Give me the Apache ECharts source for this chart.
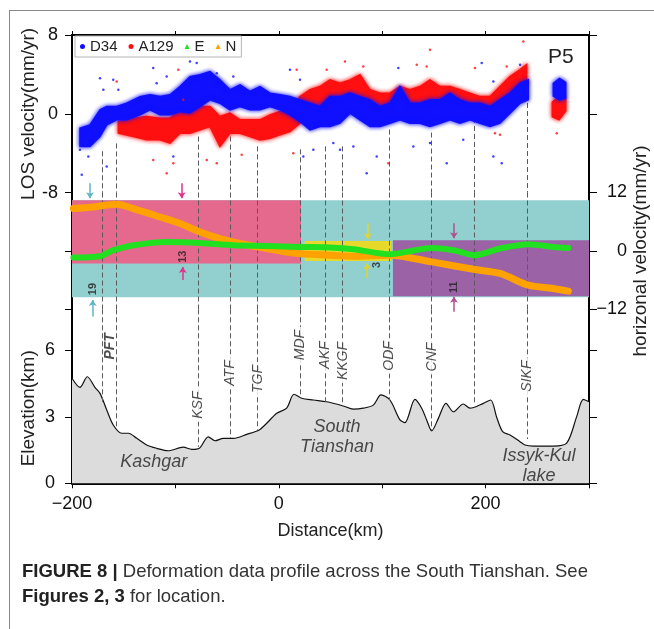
<!DOCTYPE html>
<html>
<head>
<meta charset="utf-8">
<script src="https://cdn.jsdelivr.net/npm/echarts@6/dist/echarts.min.js"></script>
<style>
  html, body { margin: 0; padding: 0; background: #fff; }
  #chart { width: 654px; height: 629px; }
  .frame { position: absolute; left: 9px; top: 10px; width: 650px; height: 625px;
           border-left: 1.5px solid #888; border-top: 1.5px solid #888; pointer-events: none; }
</style>
</head>
<body>
<div id="chart"></div>
<div class="frame"></div>
<script>
// ---- LOS velocity (mm/yr): upper / lower edge of the dense InSAR point cloud
const d34Dist = [-192.3, -182.6, -172.9, -166.4, -156.8, -147.1, -134.2, -124.6, -114.9, -105.2, -95.6, -85.9, -76.2, -66.5, -56.9, -47.2, -37.5, -27.9, -18.2, -8.5, 1.2, 10.8, 20.5, 30.2, 39.8, 49.5, 59.2, 68.9, 78.5, 88.2, 97.9, 107.5, 117.2, 126.9, 136.6, 146.2, 155.9, 165.6, 175.2, 184.9, 194.6, 204.3, 213.9, 223.6, 233.3, 241.3, null, 265.5, 271.5, 277.5];
const d34Hi = [-1.45, -1.12, 0.41, 0.74, 0.74, 1.08, 1.75, 1.93, 1.75, 1.93, 2.77, 3.78, 3.96, 4.29, 3.45, 2.44, 2.94, 2.27, 2.77, 2.10, 1.93, 1.75, 1.42, 1.08, 0.74, 1.75, 1.75, 2.10, 1.75, 1.42, 0.74, 1.08, 2.77, 1.08, 1.08, 1.42, 1.42, 2.10, 1.42, 1.08, 1.08, 0.74, 1.42, 2.10, 3.11, 3.45, null, 3.1, 3.6, 3.2];
const d34Lo = [-3.32, -3.32, -2.30, -1.12, -0.61, -0.61, -0.10, 0.41, -0.10, -0.10, 0.23, 0.10, 0.74, 1.42, 1.08, 0.41, 0.74, 0.41, 0.41, 0.74, 0.41, -0.10, -0.78, -1.62, -1.29, -1.29, -0.95, 0.07, -0.61, -1.29, -1.29, -0.95, -0.61, -0.95, -0.95, -1.29, -0.95, -0.61, -0.95, -0.61, -0.95, -1.29, -0.95, 0.07, 1.08, 1.42, null, 1.8, 1.4, 1.6];

const a129Dist = [-155.2, -140.7, -127.8, -114.9, -105.2, -95.6, -85.9, -76.2, -66.5, -56.9, -47.2, -37.5, -27.9, -18.2, -8.5, 1.2, 10.8, 20.5, 30.2, 39.8, 49.5, 59.2, 68.9, 78.5, 88.2, 97.9, 107.5, 117.2, 126.9, 136.6, 146.2, 155.9, 165.6, 175.2, 184.9, 194.6, 204.3, 213.9, 223.6, 233.3, 239.7, null, 264.5, 271, 277.5];
const a129Hi = [-0.78, -0.44, -0.27, -0.44, -0.44, 0.41, 0.41, 0.74, 0.74, -0.27, 0.07, -0.61, -0.61, -0.61, -0.10, 0.23, 0.41, 1.75, 2.44, 2.77, 3.45, 3.11, 3.45, 3.96, 2.44, 2.10, 2.10, 2.77, 2.44, 2.77, 3.45, 2.77, 2.77, 2.44, 2.10, 1.75, 1.75, 2.77, 3.78, 4.48, 5.00, null, 1.2, 1.75, 1.5];
const a129Lo = [-1.96, -2.30, -2.64, -2.64, -2.97, -1.96, -1.96, -1.62, -1.29, -3.32, -1.96, -1.96, -2.30, -2.64, -2.47, -2.13, -1.79, -0.95, 0.41, 0.41, 1.08, 0.74, 1.42, 1.75, 0.41, 0.07, 0.41, 1.08, 0.74, 0.41, 0.74, 0.74, 0.41, 0.41, 0.41, 0.41, 0.07, -0.27, 1.42, 2.77, 3.11, null, -0.3, -0.6, 0.3];

// scattered points outside the dense cloud
const d34OutDist = [-190.6, -192.3, -184.2, -172.9, -169.7, -166.4, -160.1, -155.2, -172.9, -121.4, -118.1, -108.4, -102, -85.9, -79.4, -60, -44, 10.8, 20.5, 23.7, 33.4, 52.7, 59.2, 72.1, 85, 94.7, 115.6, 130.1, 146.2, 162.4, 178.4, 196.2, 207.5, 207.5, 215.6, 233.3];
const d34OutLos = [-6.19, -3.65, -4.33, 3.62, 2.44, -5.35, 3.45, 2.44, -1.96, 4.64, 3.11, 3.78, -4.33, 5.31, 5.15, 4.13, 3.79, 4.47, 3.45, -4.33, -3.65, -2.97, -3.65, -3.32, -6.02, -4.33, 4.64, -3.32, -2.97, -5.01, -2.64, 5.15, 3.28, -4.33, -5.01, 4.97];
const a129OutDist = [-156.8, -121.4, -108.4, -102, -97.2, -92.4, -69.7, -60, -35.9, 14, 17.3, 46.3, 64, 81.7, 105.9, 133.4, 146.2, 143, 189.7, 220.4, 236.5, 209.1, 213.9, 268.8];
const a129OutLos = [3.28, -4.67, -6.02, -5.01, 4.47, 1.42, -4.67, -5.01, -4.16, -3.99, 4.47, 4.47, 5.31, 4.80, -5.01, 4.97, 6.50, 4.80, 4.64, 4.80, 7.34, -1.96, -2.13, -1.96];

// ---- horizontal GNSS velocity (mm/yr)
const eDist = [-198.7, -172.9, -160.1, -140.7, -108.4, -76.2, -44, -11.7, 20.5, 49.5, 72, 107.5, 123.7, 147.9, 168.8, 189.7, 213.9, 241.3, 265.5, 280];
const eVel = [-1.35, -1.09, 0.14, 1.17, 1.85, 1.64, 1.17, 1.03, 0.82, 0.70, 0.35, -0.68, -0.20, 0.62, 0.14, -0.88, 0.49, 1.37, 0.82, 0.62];
const nDist = [-198.7, -179.4, -156.8, -140.7, -114.9, -95.6, -76.2, -56.9, -37.5, -11.7, 14, 49.5, 72, 107.5, 147.9, 189.7, 213.9, 241.3, 265.5, 280];
const nVel = [8.70, 9.03, 9.58, 8.70, 6.97, 5.62, 3.90, 2.54, 1.52, 0.49, -0.41, -0.88, -1.09, -0.88, -2.26, -3.82, -4.64, -7.04, -7.71, -8.27];

// velocity zones (mm/yr)
const zoneX0 = [-200, -200, 25, 110.4];
const zoneX1 = [300, 21.5, 108.5, 300];
const zoneTop = [10.4, 10.4, 2.05, 2.2];
const zoneBottom = [-9.5, -2.6, -2.1, -9.3];
const zoneColors = ['#92cfcf', '#e4698c', '#e6d92c', '#9b62a6'];

// zone-width arrows and their numbers
const arrowDist = [-182.6, -180, -93.9, -92.9, 86, 85.3, 169.4, 169.4];
const arrowFrom = [13.9, -13.5, 13.9, -6.0, 5.7, -5.6, 5.7, -12.5];
const arrowTo = [10.8, -10.1, 10.8, -3.3, 2.4, -2.6, 2.6, -9.4];
const arrowColors = ['#5db5c6', '#5db5c6', '#e0338a', '#e0338a', '#e2d430', '#e2d430', '#b0508e', '#b0508e'];
const rateText = ['19', '13', '3', '11'];
const rateDist = [-179.7, -92.6, 95, 169.4];
const rateVel = [-7.85, -1.2, -2.9, -7.45];

// ---- topography (km)
const elevDist = [-200, -192.3, -185.2, -177.8, -172.9, -166.4, -160.1, -151.9, -145.5, -137.4, -127.8, -118.1, -106.9, -92.4, -84.2, -76.9, -68.2, -61.7, -53.7, -44, -31, -18.9, -11.7, -2, 7.6, 14.7, 22.1, 33.4, 46.3, 62.4, 72.1, 81.7, 91.4, 98.8, 107.5, 117.2, 122, 131.7, 138.2, 143, 147.9, 154.3, 161.7, 168.8, 178.4, 184.9, 197.8, 204.9, 210.7, 216.5, 223.6, 233.3, 238.1, 246.1, 265.5, 278.4, 288.1, 294.5, 300];
const elevKm = [4.74, 4.33, 4.81, 4.33, 4.06, 3.31, 2.63, 2.26, 2.26, 2.03, 1.73, 1.58, 1.47, 1.63, 1.53, 1.58, 2.10, 1.92, 2.03, 2.03, 2.21, 2.41, 2.71, 3.16, 3.39, 4.02, 3.84, 3.76, 3.68, 3.49, 3.35, 3.39, 3.53, 3.99, 3.76, 2.86, 2.74, 3.79, 3.39, 2.86, 2.37, 2.93, 3.61, 3.23, 3.58, 3.39, 3.61, 3.76, 2.98, 2.33, 2.18, 1.88, 1.73, 1.68, 1.68, 1.81, 3.01, 3.79, 3.68];

// ---- faults
const faultDist = [-170.3, -156.8, -77.9, -47.2, -20.4, 20.5, 45.2, 61.8, 106.9, 147.9, 189.1, 240.3];
const faultTopLos = [-3.8, -3.0, -2.3, -2.3, -3.3, -3.6, -3.3, -3.3, -1.6, -1.9, 0.4, 1.1];
const faultBaseKm = [3.68, 2.50, 1.65, 2.05, 2.41, 3.85, 3.68, 3.49, 3.76, 2.40, 3.53, 2.00];
const faultLabels = ['PFT', 'KSF', 'ATF', 'TGF', 'MDF', 'AKF', 'KKGF', 'ODF', 'CNF', 'SIKF'];
const faultLabelDist = [-163.5, -77.9, -47.2, -20.4, 20.5, 45.2, 61.8, 106.9, 147.9, 240.3];
const faultLabelKm = [6.18, 3.53, 4.98, 4.71, 6.24, 5.79, 5.52, 5.75, 5.70, 4.84];

const regionNames = ['Kashgar', 'South\nTianshan', 'Issyk-Kul\nlake'];
const regionDist = [-121, 56.3, 251.6];
const regionKm = [0.94, 2.09, 0.78];

const FONT = 'Liberation Sans, Arial, sans-serif';
const ELEV_MAX = 7.855;
const minus = v => (v < 0 ? '\u2212' + (-v) : String(v));

function bandPieces(dist, hi, lo) {
  const pieces = [];
  let cur = [];
  dist.forEach((d, i) => {
    if (d === null) { if (cur.length) pieces.push(cur); cur = []; return; }
    cur.push([d, hi[i], lo[i]]);
  });
  if (cur.length) pieces.push(cur);
  return pieces;
}

// dense point cloud drawn as a filled band with a soft edge
function bandSeries(name, pieces, color) {
  return {
    name, type: 'custom', xAxisIndex: 0, yAxisIndex: 0, z: 3, silent: true,
    itemStyle: { color },
    data: pieces.map((p, i) => [p[0][0], p[0][1], i]),
    encode: { x: 0, y: 1 },
    renderItem(params, api) {
      const p = pieces[api.value(2)];
      const pts = p.map(q => api.coord([q[0], q[1]]))
        .concat(p.slice().reverse().map(q => api.coord([q[0], q[2]])));
      return { type: 'polygon', shape: { points: pts },
               style: { fill: color, stroke: color, lineWidth: 1.5, shadowBlur: 4, shadowColor: color } };
    }
  };
}

function faultLines(xi, yi, from, to, z) {
  return {
    type: 'lines', coordinateSystem: 'cartesian2d', xAxisIndex: xi, yAxisIndex: yi, z, silent: true,
    lineStyle: { color: '#5a5a5a', width: 1, type: [5, 3], opacity: 1 },
    data: faultDist.map((d, i) => ({ coords: [[d, from(i)], [d, to(i)]] }))
  };
}

const blackLine = { show: true, onZero: false, lineStyle: { color: '#000', width: 2 } };
const tickStyle = { color: '#000', width: 1 };

const xBase = { type: 'value', min: -200, max: 300, interval: 100, splitLine: { show: false } };

const chart = echarts.init(document.getElementById('chart'), null, { renderer: 'canvas' });

chart.setOption({
  animation: false,
  backgroundColor: '#fff',
  textStyle: { fontFamily: FONT },
  title: [
    {
      text: '{b|FIGURE 8 |} Deformation data profile across the South Tianshan. See\n{b|Figures 2, 3} for location.',
      left: 22, top: 559, padding: 0,
      textStyle: {
        fontSize: 18.5, fontWeight: 'normal', color: '#333', lineHeight: 25, fontFamily: FONT,
        rich: { b: { fontSize: 18.5, fontWeight: 'bold', color: '#222', lineHeight: 25, fontFamily: FONT } }
      }
    },
    { text: 'P5', left: 543, top: 42, textStyle: { fontSize: 21, fontWeight: 'normal', color: '#222', fontFamily: FONT } }
  ],
  legend: {
    left: 75, top: 36, padding: [3, 5, 3, 5], itemGap: 11, itemWidth: 5, itemHeight: 5,
    borderColor: '#b5b5b5', borderWidth: 1, backgroundColor: '#fff', selectedMode: false,
    textStyle: { fontSize: 15, color: '#222', fontFamily: FONT },
    data: [
      { name: 'D34', icon: 'circle' },
      { name: 'A129', icon: 'circle' },
      { name: 'E', icon: 'triangle' },
      { name: 'N', icon: 'triangle' }
    ]
  },
  grid: [
    { left: 72, top: 35, width: 517, height: 157.7, outerBoundsMode: 'none' },
    { left: 72, top: 192.5, width: 517, height: 116.8, outerBoundsMode: 'none' },
    { left: 72, top: 309.3, width: 517, height: 174, outerBoundsMode: 'none' }
  ],
  xAxis: [
    { ...xBase, gridIndex: 0, position: 'top', axisLine: blackLine,
      axisTick: { length: 4, lineStyle: tickStyle }, axisLabel: { show: false } },
    { ...xBase, gridIndex: 1, show: false },
    { ...xBase, gridIndex: 2, position: 'bottom', axisLine: blackLine,
      axisTick: { length: 5, lineStyle: tickStyle },
      axisLabel: { fontSize: 18, color: '#111', margin: 12, formatter: v => (v % 200 === 0 ? minus(v) : '') },
      name: 'Distance(km)', nameLocation: 'middle', nameGap: 39, nameMoveOverlap: false,
      nameTextStyle: { fontSize: 18, color: '#222' } }
  ],
  yAxis: [
    { type: 'value', gridIndex: 0, position: 'left', min: -8, max: 8, interval: 8,
      axisLine: blackLine, axisTick: { length: 7, lineStyle: tickStyle }, splitLine: { show: false },
      axisLabel: { fontSize: 18, color: '#111', margin: 14 },
      name: 'LOS velocity(mm/yr)', nameLocation: 'middle', nameGap: 34, nameRotate: 90, nameMoveOverlap: false,
      nameTextStyle: { fontSize: 19, color: '#222' } },
    { type: 'value', gridIndex: 0, position: 'right', min: -8, max: 8, interval: 8,
      axisLine: blackLine, axisTick: { length: 8, lineStyle: tickStyle }, splitLine: { show: false },
      axisLabel: { show: false } },
    { type: 'value', gridIndex: 1, position: 'left', min: -12, max: 12, interval: 12,
      axisLine: blackLine, axisTick: { length: 7, lineStyle: tickStyle }, splitLine: { show: false },
      axisLabel: { show: false } },
    { type: 'value', gridIndex: 1, position: 'right', min: -12, max: 12, interval: 12,
      axisLine: blackLine, axisTick: { length: 8, lineStyle: tickStyle }, splitLine: { show: false },
      axisLabel: { fontSize: 18, color: '#111', margin: 38, align: 'right', formatter: minus },
      name: 'horizonal velocity(mm/yr)', nameLocation: 'middle', nameGap: 42, nameRotate: 90, nameMoveOverlap: false,
      nameTextStyle: { fontSize: 19, color: '#222' } },
    { type: 'value', gridIndex: 2, position: 'left', min: 0, max: ELEV_MAX, interval: 3,
      axisLine: blackLine, axisTick: { length: 7, lineStyle: tickStyle }, splitLine: { show: false },
      axisLabel: { fontSize: 18, color: '#111', margin: 17, showMaxLabel: false },
      name: 'Elevation(km)', nameLocation: 'middle', nameGap: 34, nameRotate: 90, nameMoveOverlap: false,
      nameTextStyle: { fontSize: 19, color: '#222', padding: [0, 24, 0, 0] } },
    { type: 'value', gridIndex: 2, position: 'right', min: 0, max: ELEV_MAX, interval: 3,
      axisLine: blackLine, axisTick: { length: 8, lineStyle: tickStyle }, splitLine: { show: false },
      axisLabel: { show: false } }
  ],
  series: [
    // velocity zones
    {
      type: 'custom', xAxisIndex: 1, yAxisIndex: 2, z: 1, silent: true,
      data: zoneX0.map((x0, i) => [x0, zoneTop[i], zoneX1[i], zoneBottom[i]]),
      encode: { x: [0, 2], y: [1, 3] },
      renderItem(params, api) {
        const a = api.coord([api.value(0), api.value(1)]);
        const b = api.coord([api.value(2), api.value(3)]);
        return { type: 'rect', shape: { x: a[0], y: a[1], width: b[0] - a[0], height: b[1] - a[1] },
                 style: { fill: zoneColors[params.dataIndex] } };
      }
    },
    faultLines(0, 0, i => faultTopLos[i], () => -8, 1),
    faultLines(1, 2, () => 12, () => -12, 2),
    faultLines(2, 4, () => ELEV_MAX, i => faultBaseKm[i], 2),

    bandSeries('A129', bandPieces(a129Dist, a129Hi, a129Lo), '#ff1010'),
    bandSeries('D34', bandPieces(d34Dist, d34Hi, d34Lo), '#1010ff'),
    { name: 'A129', type: 'scatter', xAxisIndex: 0, yAxisIndex: 0, z: 4, silent: true, symbolSize: 2.5,
      itemStyle: { color: '#ff1010' }, data: a129OutDist.map((d, i) => [d, a129OutLos[i]]) },
    { name: 'D34', type: 'scatter', xAxisIndex: 0, yAxisIndex: 0, z: 4, silent: true, symbolSize: 2.5,
      itemStyle: { color: '#1010ff' }, data: d34OutDist.map((d, i) => [d, d34OutLos[i]]) },

    { name: 'N', type: 'line', xAxisIndex: 1, yAxisIndex: 2, z: 3, silent: true, smooth: 0.3,
      symbol: 'none', itemStyle: { color: '#ffa200' },
      lineStyle: { color: '#ffa200', width: 7, cap: 'round', join: 'round' },
      data: nDist.map((d, i) => [d, nVel[i]]) },
    { name: 'E', type: 'line', xAxisIndex: 1, yAxisIndex: 2, z: 4, silent: true, smooth: 0.3,
      symbol: 'none', itemStyle: { color: '#20e020' },
      lineStyle: { color: '#20e020', width: 6, cap: 'round', join: 'round' },
      data: eDist.map((d, i) => [d, eVel[i]]) },

    { type: 'lines', coordinateSystem: 'cartesian2d', xAxisIndex: 1, yAxisIndex: 2, z: 5, silent: true, clip: false,
      symbol: ['none', 'arrow'], symbolSize: 6,
      data: arrowDist.map((d, i) => ({ coords: [[d, arrowFrom[i]], [d, arrowTo[i]]],
        lineStyle: { color: arrowColors[i], width: 1.5, opacity: 1 } })) },
    { type: 'scatter', xAxisIndex: 1, yAxisIndex: 2, z: 6, silent: true, symbolSize: 1,
      itemStyle: { color: 'transparent' },
      label: { show: true, position: 'inside', rotate: 90, fontSize: 11, fontWeight: 'bold', color: '#222',
               formatter: p => rateText[p.dataIndex] },
      data: rateDist.map((d, i) => [d, rateVel[i]]) },

    { type: 'line', xAxisIndex: 2, yAxisIndex: 4, z: 1, silent: true, smooth: 0.3, symbol: 'none',
      lineStyle: { color: '#111', width: 1.2 }, areaStyle: { color: '#dcdcdc', opacity: 1 },
      data: elevDist.map((d, i) => [d, elevKm[i]]) },
    { type: 'scatter', xAxisIndex: 2, yAxisIndex: 4, z: 6, silent: true, symbolSize: 1,
      itemStyle: { color: 'transparent' },
      data: faultLabelDist.map((d, i) => ({
        value: [d, faultLabelKm[i]],
        label: {
          show: true, position: 'inside', rotate: 90, fontSize: 14, fontStyle: 'italic', color: '#222',
          fontWeight: i === 0 ? 'bold' : 'normal',
          backgroundColor: i === 0 ? 'transparent' : '#fff', padding: [0, 3],
          formatter: faultLabels[i]
        }
      })) },
    { type: 'scatter', xAxisIndex: 2, yAxisIndex: 4, z: 6, silent: true, symbolSize: 1,
      itemStyle: { color: 'transparent' },
      label: { show: true, position: 'inside', fontSize: 18, fontStyle: 'italic', color: '#222',
               lineHeight: 20, align: 'center', formatter: p => regionNames[p.dataIndex] },
      data: regionDist.map((d, i) => [d, regionKm[i]]) }
  ]
});
</script>
</body>
</html>
